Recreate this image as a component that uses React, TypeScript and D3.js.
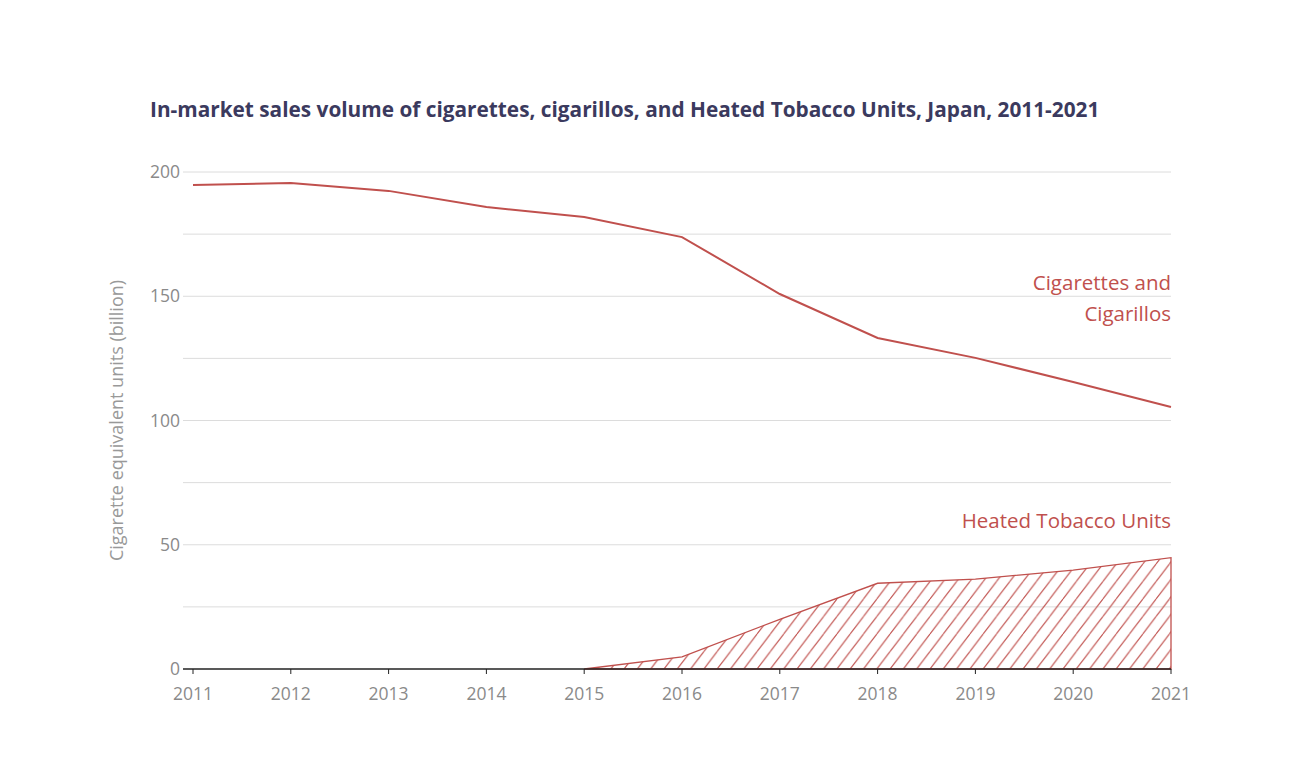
import React from "react";
import * as d3 from "d3";

const years = [2011, 2012, 2013, 2014, 2015, 2016, 2017, 2018, 2019, 2020, 2021];
const cigarettes = [194.8, 195.6, 192.4, 185.9, 181.9, 173.8, 150.9, 133.2, 125.2, 115.5, 105.4];
const htuYears = [2015, 2016, 2017, 2018, 2019, 2020, 2021];
const htu = [0, 4.9, 20.0, 34.5, 36.2, 39.8, 44.8];
const yTickLabels = [0, 50, 100, 150, 200];
const gridValues = [25, 50, 75, 100, 125, 150, 175, 200];

const W = 1290;
const H = 758;
const RED = "#c0504d";
const FONT = "'Open Sans', sans-serif";

export default function App() {
  const x = d3.scaleLinear().domain([2011, 2021]).range([193, 1171]);
  const y = d3.scaleLinear().domain([0, 200]).range([669, 172]);

  const line = d3
    .line<number>()
    .x((_, i) => x(years[i]))
    .y((d) => y(d));

  const area = d3
    .area<number>()
    .x((_, i) => x(htuYears[i]))
    .y0(y(0))
    .y1((d) => y(d));

  const htuPath = area(htu) || "";

  return (
    <svg
      width={W}
      height={H}
      style={{ position: "absolute", left: 0, top: 0, background: "#fff" }}
      fontFamily={FONT}
    >
      <defs>
        <pattern id="hatch" patternUnits="userSpaceOnUse" width={13.3} height={17.5} x={x(2015)} y={y(0)}>
          <path d="M0,17.5 L13.3,0 M-13.3,17.5 L0,0 M13.3,17.5 L26.6,0" stroke={RED} strokeWidth={1.1} fill="none" />
        </pattern>
      </defs>

      <text x={150} y={117} fontSize={20.8} fontWeight={700} fill="#3b3a5e">
        In-market sales volume of cigarettes, cigarillos, and Heated Tobacco Units, Japan, 2011-2021
      </text>

      {gridValues.map((v) => (
        <line key={v} x1={183} x2={1171} y1={y(v)} y2={y(v)} stroke="#dcdcdc" strokeWidth={1} />
      ))}

      {yTickLabels.map((v) => (
        <text key={v} x={180} y={y(v)} dy="0.35em" textAnchor="end" fontSize={17.5} fill="#8a8a8a">
          {v}
        </text>
      ))}

      <text
        transform={`translate(123,${y(100)}) rotate(-90)`}
        textAnchor="middle"
        fontSize={18}
        fill="#999"
      >
        Cigarette equivalent units (billion)
      </text>

      <path d={htuPath} fill="url(#hatch)" stroke={RED} strokeWidth={1.3} />

      <line x1={183} x2={1171} y1={y(0)} y2={y(0)} stroke="#222" strokeWidth={1.6} />
      {years.map((yr) => (
        <g key={yr}>
          <line x1={x(yr)} x2={x(yr)} y1={y(0)} y2={y(0) + 5} stroke="#222" strokeWidth={1} />
          <text x={x(yr)} y={700} textAnchor="middle" fontSize={17.5} fill="#8a8a8a">
            {yr}
          </text>
        </g>
      ))}

      <path d={line(cigarettes) || ""} fill="none" stroke={RED} strokeWidth={2} />

      <text x={1171} y={290} textAnchor="end" fontSize={20.5} fill={RED}>
        Cigarettes and
      </text>
      <text x={1171} y={321} textAnchor="end" fontSize={20.5} fill={RED}>
        Cigarillos
      </text>
      <text x={1171} y={528} textAnchor="end" fontSize={20.5} fill={RED}>
        Heated Tobacco Units
      </text>
    </svg>
  );
}
